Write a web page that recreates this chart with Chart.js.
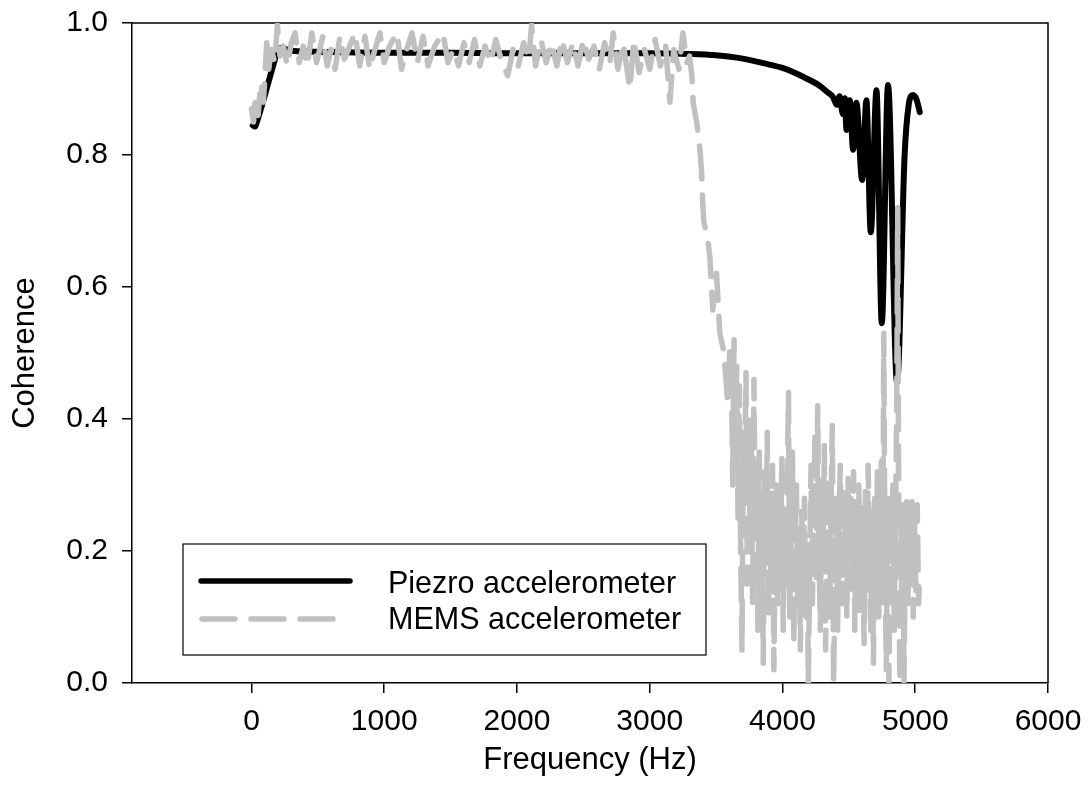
<!DOCTYPE html>
<html>
<head>
<meta charset="utf-8">
<script src="https://cdn.jsdelivr.net/npm/chart.js"></script>
<style>
  html, body { margin: 0; padding: 0; background: #fff; }
  #wrap { width: 1089px; height: 801px; }
</style>
</head>
<body>
<div id="wrap"><canvas id="cohChart"></canvas></div>
<script>
const xTicks = [0, 1000, 2000, 3000, 4000, 5000, 6000];
const yTicks = [0, 0.2, 0.4, 0.6, 0.8, 1.0];

// piezo accelerometer coherence
const piezoFreq = [10, 25, 50, 100, 150, 200, 230, 300, 600, 1000, 1500, 2000, 2500, 3000, 3300,
  3500, 3700, 3900, 4000, 4100, 4200, 4280, 4340, 4380, 4410, 4430, 4455, 4470, 4482, 4507,
  4532, 4557, 4600, 4632, 4665, 4708, 4748, 4795, 4863, 4920, 4950, 4983, 5010, 5034];
const piezoCoh = [0.845, 0.843, 0.856, 0.89, 0.926, 0.958, 0.962, 0.958, 0.956, 0.955, 0.955, 0.954, 0.954, 0.954, 0.953,
  0.951, 0.946, 0.937, 0.932, 0.924, 0.914, 0.905, 0.895, 0.888, 0.876, 0.889, 0.862, 0.886, 0.838, 0.883,
  0.808, 0.879, 0.762, 0.883, 0.683, 0.898, 0.545, 0.906, 0.455, 0.80, 0.875, 0.891, 0.884, 0.865];

// MEMS accelerometer coherence
const memsFreq = [0, 15, 30, 50, 70, 90, 115, 130, 150, 175, 195, 215, 240, 270, 300, 328, 360, 390, 420, 455,
  490, 538, 570, 600, 630, 666, 700, 740, 779, 815, 855, 890, 930, 968, 1000, 1040, 1096, 1130, 1170, 1209,
  1250, 1292, 1330, 1380, 1443, 1480, 1520, 1560, 1600, 1640, 1680, 1720, 1760, 1800, 1840, 1880, 1930, 1970, 2010, 2050,
  2090, 2110, 2140, 2180, 2220, 2260, 2300, 2340, 2380, 2420, 2460, 2500, 2540, 2580, 2620, 2660, 2700, 2725, 2760, 2800,
  2850, 2880, 2920, 2960, 3000, 3040, 3080, 3120, 3152, 3180, 3220, 3250, 3280, 3300,
  3318, 3327, 3355, 3377, 3390, 3398, 3407, 3438, 3453, 3475, 3503, 3528, 3560, 3585, 3603,
  3616, 3625, 3635, 3645, 3655, 3665, 3675, 3685, 3695, 3705, 3715, 3725, 3735, 3745, 3755, 3765, 3775, 3785, 3795, 3805,
  3815, 3825, 3835, 3845, 3855, 3865, 3875, 3885, 3895, 3905, 3915, 3925, 3935, 3945, 3955, 3965, 3975, 3985, 3995, 4005,
  4015, 4025, 4035, 4045, 4055, 4065, 4075, 4085, 4095, 4105, 4115, 4125, 4135, 4145, 4155, 4165, 4175, 4185, 4195, 4205,
  4215, 4225, 4235, 4245, 4255, 4265, 4275, 4285, 4295, 4305, 4315, 4325, 4335, 4345, 4355, 4365, 4375, 4385, 4395, 4405,
  4415, 4425, 4435, 4445, 4455, 4465, 4475, 4485, 4495, 4505, 4515, 4525, 4535, 4545, 4555, 4565, 4575, 4585, 4595, 4605,
  4615, 4625, 4635, 4645, 4655, 4665, 4675, 4685, 4695, 4705, 4715, 4725, 4735, 4745, 4755, 4763, 4772, 4782, 4792, 4802,
  4812, 4822, 4832, 4842, 4852, 4860, 4868, 4876, 4884, 4892, 4900, 4908, 4915, 4925, 4935, 4945, 4955, 4965, 4975, 4985,
  4995, 5005, 5015, 5025, 5034];
const memsCoh = [0.87, 0.85, 0.89, 0.86, 0.91, 0.88, 0.97, 0.93, 0.96, 0.94, 0.997, 0.95, 0.965, 0.935, 0.97, 0.985, 0.94, 0.965, 0.935, 0.985,
  0.94, 0.98, 0.935, 0.96, 0.93, 0.98, 0.945, 0.965, 0.985, 0.935, 0.98, 0.93, 0.96, 0.985, 0.94, 0.965, 0.985, 0.93, 0.96, 0.985,
  0.94, 0.98, 0.935, 0.965, 0.985, 0.94, 0.96, 0.935, 0.97, 0.94, 0.975, 0.935, 0.965, 0.94, 0.975, 0.945, 0.92, 0.96, 0.935, 0.97,
  0.945, 0.997, 0.935, 0.975, 0.94, 0.97, 0.935, 0.975, 0.94, 0.97, 0.935, 0.975, 0.945, 0.965, 0.93, 0.97, 0.94, 0.985, 0.93, 0.97,
  0.90, 0.975, 0.925, 0.96, 0.93, 0.975, 0.935, 0.965, 0.88, 0.96, 0.93, 0.985, 0.94, 0.95,
  0.919, 0.879, 0.848, 0.81, 0.777, 0.732, 0.70, 0.671, 0.645, 0.565, 0.621, 0.53, 0.50, 0.43, 0.505,
  0.464, 0.30, 0.52, 0.35, 0.48, 0.25, 0.45, 0.20, 0.05, 0.38, 0.28, 0.47, 0.15, 0.40, 0.24, 0.36, 0.12, 0.46, 0.22, 0.30,
  0.08, 0.35, 0.18, 0.28, 0.03, 0.32, 0.20, 0.38, 0.10, 0.26, 0.14, 0.33, 0.02, 0.22, 0.30, 0.12, 0.27, 0.18, 0.34, 0.08,
  0.25, 0.15, 0.28, 0.44, 0.10, 0.24, 0.35, 0.06, 0.20, 0.30, 0.12, 0.22, 0.05, 0.26, 0.15, 0.28, 0.10, 0.21, 0.0, 0.18,
  0.33, 0.12, 0.24, 0.38, 0.15, 0.42, 0.20, 0.08, 0.30, 0.18, 0.36, 0.05, 0.22, 0.31, 0.10, 0.27, 0.39, 0.0, 0.15, 0.28,
  0.08, 0.24, 0.33, 0.12, 0.30, 0.18, 0.26, 0.10, 0.31, 0.20, 0.28, 0.14, 0.32, 0.08, 0.25, 0.16, 0.30, 0.11, 0.27, 0.18,
  0.06, 0.29, 0.14, 0.33, 0.20, 0.08, 0.26, 0.03, 0.28, 0.15, 0.32, 0.10, 0.22, 0.34, 0.12, 0.53, 0.18, 0.02, 0.28, 0.0,
  0.22, 0.14, 0.30, 0.08, 0.26, 0.40, 0.72, 0.20, 0.0, 0.25, 0.10, 0.27, 0.0, 0.20, 0.28, 0.12, 0.25, 0.15, 0.28, 0.10,
  0.24, 0.14, 0.27, 0.12, 0.16];

const FONT = '"Liberation Sans", Arial, sans-serif';
const GRAY = '#c0c0c0';

// top + right border of the plot box
const frame = {
  id: 'frame',
  beforeDatasetsDraw(chart) {
    const {ctx, chartArea: a} = chart;
    ctx.save();
    ctx.strokeStyle = '#000';
    ctx.lineWidth = 1.5;
    ctx.beginPath();
    ctx.moveTo(a.left, a.top);
    ctx.lineTo(a.right, a.top);
    ctx.lineTo(a.right, a.bottom);
    ctx.stroke();
    ctx.restore();
  }
};

// boxed legend in the lower left
const boxLegend = {
  id: 'boxLegend',
  afterDraw(chart) {
    const ctx = chart.ctx;
    ctx.save();
    ctx.fillStyle = '#fff';
    ctx.fillRect(183, 544, 523, 111);
    ctx.strokeStyle = '#000';
    ctx.lineWidth = 1.2;
    ctx.strokeRect(183, 544, 523, 111);
    ctx.lineCap = 'round';
    ctx.lineWidth = 5.5;
    ctx.strokeStyle = '#000';
    ctx.beginPath();
    ctx.moveTo(201, 581);
    ctx.lineTo(350, 581);
    ctx.stroke();
    ctx.strokeStyle = GRAY;
    ctx.setLineDash([33, 16]);
    ctx.beginPath();
    ctx.moveTo(202, 619);
    ctx.lineTo(334, 619);
    ctx.stroke();
    ctx.setLineDash([]);
    ctx.fillStyle = '#000';
    ctx.font = '30.5px ' + FONT;
    ctx.textBaseline = 'alphabetic';
    ctx.fillText(chart.data.datasets[0].label, 388, 593);
    ctx.fillText(chart.data.datasets[1].label, 388, 629);
    ctx.restore();
  }
};

const ctx = document.getElementById('cohChart').getContext('2d');
new Chart(ctx, {
  type: 'line',
  data: {
    datasets: [{
      label: 'Piezro accelerometer',
      data: piezoFreq.map((f, i) => ({x: f, y: piezoCoh[i]})),
      borderColor: '#000',
      borderWidth: 6,
      pointRadius: 0,
      cubicInterpolationMode: 'monotone',
      borderCapStyle: 'round',
      borderJoinStyle: 'round',
      order: 1
    }, {
      label: 'MEMS accelerometer',
      data: memsFreq.map((f, i) => ({x: f, y: memsCoh[i]})),
      borderColor: GRAY,
      borderWidth: 5.5,
      borderDash: [33, 16],
      pointRadius: 0,
      tension: 0,
      borderCapStyle: 'round',
      borderJoinStyle: 'round',
      order: 0
    }]
  },
  options: {
    responsive: true,
    maintainAspectRatio: false,
    animation: false,
    layout: { padding: { top: 23, right: 41, left: 0, bottom: 0 } },
    plugins: { legend: { display: false }, tooltip: { enabled: false } },
    scales: {
      x: {
        type: 'linear',
        min: -900,
        max: 6000,
        afterBuildTicks: s => { s.ticks = xTicks.map(v => ({value: v})); },
        afterFit: s => { s.height = 118; s.paddingLeft = 0; s.paddingRight = 0; },
        grid: { drawOnChartArea: false, drawTicks: true, tickLength: 10, color: '#000', lineWidth: 1.5 },
        border: { color: '#000', width: 1.5 },
        ticks: { color: '#000', font: { family: FONT, size: 30 }, padding: 11, maxRotation: 0, callback: v => String(v) },
        title: { display: true, text: 'Frequency (Hz)', color: '#000', font: { family: FONT, size: 31 }, padding: { top: 0, bottom: 22 } }
      },
      y: {
        min: 0,
        max: 1,
        afterBuildTicks: s => { s.ticks = yTicks.map(v => ({value: v})); },
        afterFit: s => { s.width = 132; s.paddingTop = 0; s.paddingBottom = 0; },
        grid: { drawOnChartArea: false, drawTicks: true, tickLength: 10, color: '#000', lineWidth: 1.5 },
        border: { color: '#000', width: 1.5 },
        ticks: { color: '#000', font: { family: FONT, size: 30 }, padding: 14, callback: v => v.toFixed(1) },
        title: { display: true, text: 'Coherence', color: '#000', font: { family: FONT, size: 31 }, padding: { top: 7, bottom: 0 } }
      }
    }
  },
  plugins: [frame, boxLegend]
});
</script>
</body>
</html>
